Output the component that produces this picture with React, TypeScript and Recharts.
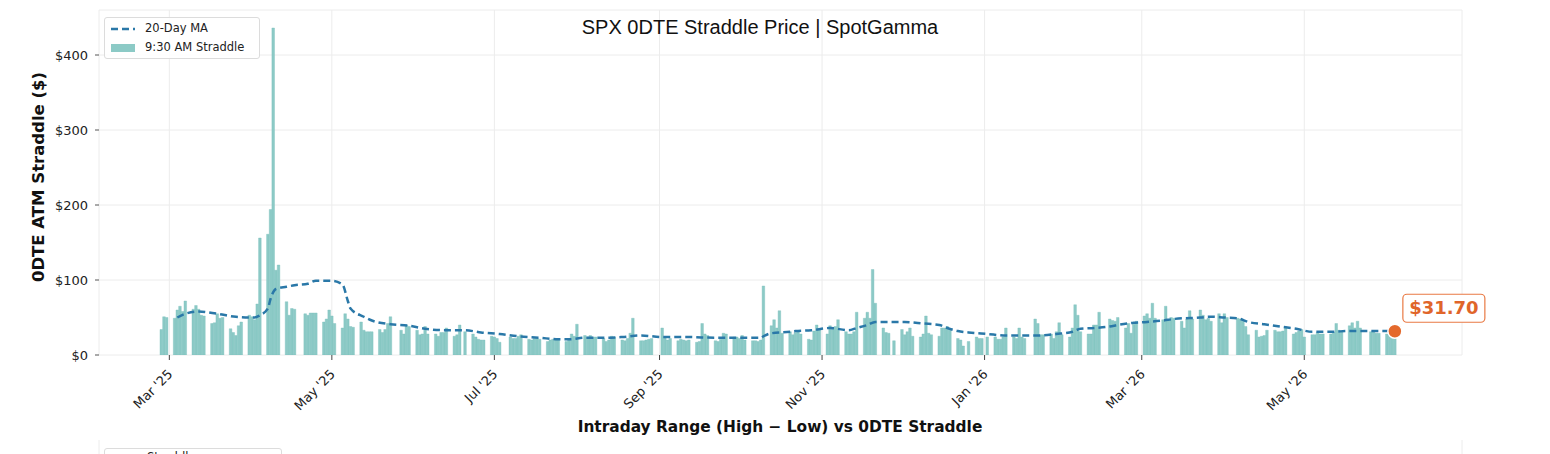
import React from "react";
import {
  Bar,
  CartesianGrid,
  ComposedChart,
  Legend,
  Line,
  ReferenceDot,
  XAxis,
  YAxis,
} from "recharts";

const DAY = 86400000;
const ts = (s: string) => Date.parse(`${s}T00:00:00Z`);

// first Monday of the series; each row below is one trading week Mon..Fri
const firstMonday = "2025-02-24";

// 9:30 AM ATM straddle ($), null = market closed / no print
const straddleByWeek: (number | null)[][] = [
  [null, null, 34, 51, 50],
  [49, 60, 65, 58, 72],
  [61, 66, 61, 53, 52],
  [42, 43, 55, 49, 50],
  [35, 30, 26, 39, 44],
  [53, 51, 47, 68, 156],
  [161, 194, 436, 113, 120],
  [71, 53, 62, 61, null],
  [55, 53, 56, 56, 56],
  [44, 48, 60, 52, 42],
  [36, 55, 48, 38, 37],
  [44, 33, 31, 31, 31],
  [34, 30, 34, 42, 51],
  [null, 33, 28, 40, 38],
  [33, 27, 28, 38, 28],
  [28, 25, 30, 30, 36],
  [25, 27, 40, null, 31],
  [28, 24, 21, 20, 20],
  [25, 24, 22, 17, null],
  [24, 22, 22, 25, 27],
  [21, 20, 22, 22, 21],
  [18, 20, 21, 20, 20],
  [18, 20, 28, 25, 41],
  [26, 24, 26, 24, 24],
  [22, 18, 20, 25, 24],
  [20, 19, 22, 29, 49],
  [19, 19, 20, 21, 22],
  [null, 36, 24, 20, 22],
  [19, 21, 20, 19, 20],
  [17, 18, 42, 28, 26],
  [19, 18, 21, 29, 28],
  [24, 24, 22, 26, 20],
  [19, 19, 18, 20, 92],
  [39, 47, 36, 59, 29],
  [31, 27, 30, 31, 28],
  [21, 20, 32, 40, 34],
  [28, 39, 36, 38, 47],
  [31, 28, 28, 31, 57],
  [49, 57, 49, 114, 69],
  [36, 30, 29, null, 19],
  [34, 27, 31, 36, 25],
  [24, 28, 52, 29, 27],
  [25, 36, 36, 38, 33],
  [22, 20, 12, null, 18],
  [24, 22, 22, null, 24],
  [24, 21, 21, 24, 36],
  [24, 22, 36, 24, 22],
  [null, 48, 42, 27, 27],
  [28, 22, 31, 43, 27],
  [24, 36, 67, 53, 31],
  [28, 28, 40, 40, 57],
  [null, 48, 46, 45, 50],
  [36, 42, 29, 41, 45],
  [52, 55, 49, 69, 49],
  [47, 65, 47, 50, 49],
  [45, 36, 48, 59, 48],
  [60, 53, 47, 49, 45],
  [55, 43, 55, 50, null],
  [49, 48, 45, 38, 27],
  [33, 24, 25, 26, 33],
  [33, 31, 31, 32, 36],
  [28, 30, 32, 34, 24],
  [27, 27, 30, 28, 28],
  [28, 30, 42, 33, 31],
  [39, 43, 36, 45, 36],
  [null, 31, 31, 29, 29],
  [28, 27, 29, 31.7, null],
];

// 20-day moving average
const maDates = [
  "2025-03-04", "2025-03-07", "2025-03-12", "2025-03-19", "2025-03-26", "2025-04-02",
  "2025-04-04", "2025-04-07", "2025-04-08", "2025-04-10", "2025-04-14", "2025-04-17",
  "2025-04-22", "2025-04-25", "2025-05-01", "2025-05-05", "2025-05-07", "2025-05-08",
  "2025-05-13", "2025-05-16", "2025-05-23", "2025-05-30", "2025-06-05", "2025-06-13",
  "2025-06-20", "2025-06-26", "2025-07-03", "2025-07-10", "2025-07-18", "2025-07-25",
  "2025-07-29", "2025-08-04", "2025-08-11", "2025-08-18", "2025-08-25", "2025-09-02",
  "2025-09-11", "2025-09-22", "2025-10-06", "2025-10-09", "2025-10-10", "2025-10-13",
  "2025-10-20", "2025-10-22", "2025-10-28", "2025-11-04", "2025-11-11", "2025-11-14",
  "2025-11-18", "2025-11-21", "2025-12-02", "2025-12-09", "2025-12-15", "2025-12-18",
  "2025-12-22", "2025-12-26", "2026-01-02", "2026-01-09", "2026-01-21", "2026-01-28",
  "2026-02-03", "2026-02-06", "2026-02-11", "2026-02-17", "2026-02-20", "2026-02-26",
  "2026-03-03", "2026-03-09", "2026-03-13", "2026-03-23", "2026-03-27", "2026-04-01",
  "2026-04-06", "2026-04-10", "2026-04-16", "2026-04-22", "2026-04-28", "2026-05-04",
  "2026-05-11", "2026-05-18", "2026-05-22", "2026-06-02", "2026-06-04",
];
const maValues = [
  50, 55, 58, 55, 51, 50,
  53, 62, 75, 88, 91, 93,
  95, 99, 99, 94, 72, 62,
  51, 46, 41, 39, 35, 33,
  33, 30, 28, 25, 23, 21,
  21, 23, 23, 24, 26, 24,
  24, 23, 23, 23, 25, 29,
  31, 32, 33, 36, 33, 36,
  40, 44, 44, 42, 40, 36,
  32, 30, 28, 26, 26, 28,
  31, 35, 36, 38, 40, 43,
  44, 46, 48, 50, 51, 50,
  49, 44, 41, 38, 35, 31,
  31, 32, 32, 32, 31.5,
];

const monthTicks = [
  "2025-03-01", "2025-05-01", "2025-07-01", "2025-09-01",
  "2025-11-01", "2026-01-01", "2026-03-01", "2026-05-01",
];
const yTicks = [0, 100, 200, 300, 400];
const lastDate = "2026-06-04";
const lastValue = 31.7;

const MONTHS = ["Jan", "Feb", "Mar", "Apr", "May", "Jun", "Jul", "Aug", "Sep", "Oct", "Nov", "Dec"];
const fmtMonth = (v: number) => {
  const d = new Date(v);
  return `${MONTHS[d.getUTCMonth()]} '${String(d.getUTCFullYear()).slice(2)}`;
};

type Row = { t: number; straddle?: number; ma?: number };

const rows: Row[] = [];
straddleByWeek.forEach((week, w) => {
  week.forEach((v, d) => {
    if (v != null) rows.push({ t: ts(firstMonday) + (7 * w + d) * DAY, straddle: v });
  });
});
maDates.forEach((s, i) => {
  const t = ts(s);
  const hit = rows.find((r) => r.t === t);
  if (hit) hit.ma = maValues[i];
  else rows.push({ t, ma: maValues[i] });
});
rows.sort((a, b) => a.t - b.t);

// axis limits (matplotlib-style padding around the data)
const X_DOMAIN: [number, number] = [ts("2025-03-01") - 26.4 * DAY, ts("2025-03-01") + 485.2 * DAY];
const Y_DOMAIN: [number, number] = [0, 460];

const BAR = "#8ccac6";
const MA = "#2a78a8";
const ORANGE = "#e4692c";
const FONT = "DejaVu Sans";

function MonthTick({ x, y, payload }: any) {
  const ax = x + 4;
  const ay = y + 13;
  return (
    <text
      x={ax}
      y={ay}
      transform={`rotate(-45 ${ax} ${ay})`}
      textAnchor="end"
      fontSize={13}
      fontFamily={FONT}
      fill="#222"
    >
      {fmtMonth(payload.value)}
    </text>
  );
}

function LastPoint(props: any) {
  const { cx, cy } = props;
  return (
    <g>
      <circle cx={cx} cy={cy} r={7} fill={ORANGE} stroke="#fff" strokeWidth={1.5} />
      <rect x={cx + 8} y={cy - 37} width={82} height={28} rx={4} fill="#fff" stroke="#e97a44" strokeWidth={1.2} />
      <text
        x={cx + 49}
        y={cy - 17}
        textAnchor="middle"
        fontFamily={FONT}
        fontWeight="bold"
        fontSize={18}
        fill="#e0652a"
      >
        ${lastValue.toFixed(2)}
      </text>
    </g>
  );
}

function TopLegend() {
  return (
    <div
      style={{
        border: "1px solid #dcdcdc",
        borderRadius: 3,
        background: "rgba(255,255,255,0.85)",
        padding: "1px 5px 1px 5px",
        fontSize: 11.5,
        fontFamily: FONT,
        color: "#222",
        lineHeight: "19px",
        width: 144,
      }}
    >
      <div style={{ display: "flex", alignItems: "center", height: 19 }}>
        <svg width={26} height={10}>
          <line x1={1} x2={25} y1={5} y2={5} stroke={MA} strokeWidth={2.5} strokeDasharray="7 4" />
        </svg>
        <span style={{ marginLeft: 9 }}>20-Day MA</span>
      </div>
      <div style={{ display: "flex", alignItems: "center", height: 19 }}>
        <svg width={26} height={10}>
          <rect x={1} y={1} width={24} height={8} fill={BAR} />
        </svg>
        <span style={{ marginLeft: 9 }}>9:30 AM Straddle</span>
      </div>
    </div>
  );
}

function BottomLegend() {
  return (
    <div
      style={{
        border: "1px solid #dcdcdc",
        borderRadius: 3,
        background: "#fff",
        padding: "0 5px",
        fontSize: 11.5,
        fontFamily: FONT,
        color: "#222",
        lineHeight: "16px",
        width: 166,
        height: 40,
      }}
    >
      <div style={{ paddingLeft: 37 }}>Straddle</div>
    </div>
  );
}

export default function App() {
  return (
    <div
      style={{
        position: "absolute",
        left: 0,
        top: 0,
        width: 1550,
        height: 454,
        overflow: "hidden",
        background: "#fff",
        fontFamily: FONT,
      }}
    >
      <div
        style={{
          position: "absolute",
          left: 0,
          width: 1520,
          top: 14,
          textAlign: "center",
          fontFamily: "Liberation Sans",
          fontSize: 20,
          color: "#111",
          lineHeight: "26px",
          zIndex: 2,
        }}
      >
        SPX 0DTE Straddle Price | SpotGamma
      </div>
      <div
        style={{
          position: "absolute",
          left: 38,
          top: 177,
          transform: "translate(-50%, -50%) rotate(-90deg)",
          whiteSpace: "nowrap",
          fontWeight: "bold",
          fontSize: 16.5,
          color: "#111",
        }}
      >
        0DTE ATM Straddle ($)
      </div>
      <div
        style={{
          position: "absolute",
          left: 780,
          top: 427,
          transform: "translate(-50%, -50%)",
          whiteSpace: "nowrap",
          fontWeight: "bold",
          fontSize: 15.4,
          color: "#111",
        }}
      >
        Intraday Range (High − Low) vs 0DTE Straddle
      </div>

      <div style={{ position: "absolute", left: 0, top: 0 }}>
        <ComposedChart width={1550} height={454} data={rows} margin={{ top: 10, right: 88, bottom: 39, left: 0 }}>
          <CartesianGrid stroke="#ececec" strokeWidth={1} />
          <XAxis
            dataKey="t"
            type="number"
            domain={X_DOMAIN}
            allowDataOverflow
            ticks={monthTicks.map(ts)}
            tick={<MonthTick />}
            tickSize={5}
            tickMargin={2}
            tickLine={{ stroke: "#444" }}
            axisLine={false}
            height={60}
            interval={0}
          />
          <YAxis
            type="number"
            domain={Y_DOMAIN}
            allowDataOverflow
            ticks={yTicks}
            tickFormatter={(v: number) => `$${v}`}
            tick={{ fill: "#222", fontSize: 13, fontFamily: FONT }}
            tickSize={4}
            tickMargin={7}
            tickLine={{ stroke: "#555" }}
            axisLine={false}
            width={99}
          />
          <Legend
            layout="horizontal"
            verticalAlign="middle"
            align="center"
            content={<TopLegend />}
            wrapperStyle={{ left: 104, top: 17, width: "auto", height: "auto" }}
          />
          <Bar dataKey="straddle" fill={BAR} stroke="#7cc1bd" strokeWidth={0.4} barSize={2.6} isAnimationActive={false} />
          <Line
            dataKey="ma"
            type="monotone"
            stroke={MA}
            strokeWidth={2.5}
            strokeDasharray="7 4"
            dot={false}
            connectNulls
            isAnimationActive={false}
          />
          <ReferenceDot x={ts(lastDate)} y={lastValue} r={7} shape={<LastPoint />} ifOverflow="visible" />
        </ComposedChart>
      </div>

      {/* second panel, cut off by the page edge */}
      <div style={{ position: "absolute", left: 0, top: 440 }}>
        <ComposedChart width={1550} height={200} data={rows} margin={{ top: 0, right: 88, bottom: 0, left: 99 }}>
          <CartesianGrid stroke="#ececec" horizontal={false} />
          <XAxis
            dataKey="t"
            type="number"
            domain={X_DOMAIN}
            allowDataOverflow
            ticks={monthTicks.map(ts)}
            tick={false}
            tickLine={false}
            axisLine={false}
            height={1}
          />
          <YAxis hide domain={Y_DOMAIN} />
          <Legend
            layout="horizontal"
            verticalAlign="middle"
            align="center"
            content={<BottomLegend />}
            wrapperStyle={{ left: 104, top: 8, width: "auto", height: "auto" }}
          />
        </ComposedChart>
      </div>
    </div>
  );
}
